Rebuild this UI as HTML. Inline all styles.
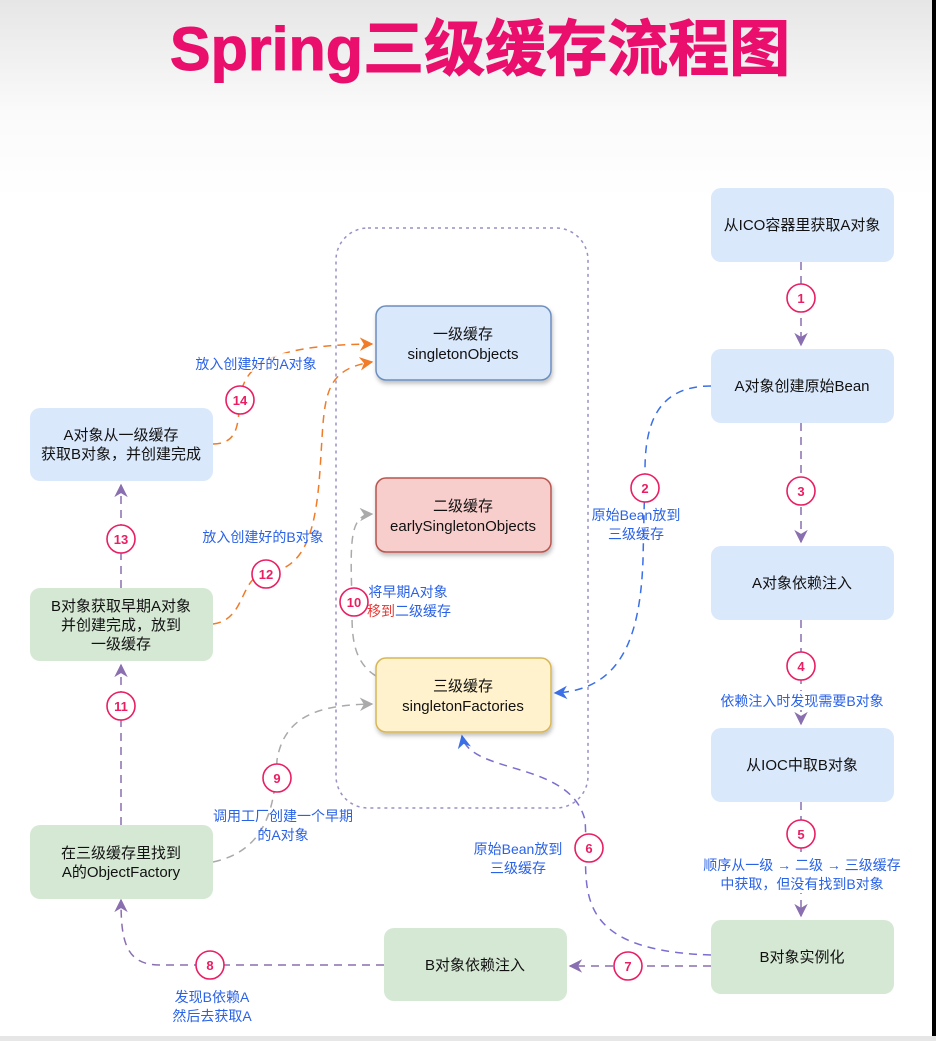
<!DOCTYPE html>
<html><head><meta charset="utf-8"><style>
html,body{margin:0;padding:0;}
body{width:936px;height:1036px;overflow:hidden;background:linear-gradient(#e6e6e6 0px,#fafafa 110px,#fff 200px);}
svg text{font-family:"Liberation Sans","Noto Sans CJK SC",sans-serif;}
</style></head><body>
<svg width="936" height="1036" viewBox="0 0 936 1036" xmlns="http://www.w3.org/2000/svg">
<defs>
<marker id="ap" viewBox="0 0 10 10" refX="9" refY="5" markerWidth="9" markerHeight="9" orient="auto"><path d="M0,0 L10,5 L0,10 L3,5z" fill="#8a6fb0"/></marker>
<marker id="ao" viewBox="0 0 10 10" refX="9" refY="5" markerWidth="9" markerHeight="9" orient="auto"><path d="M0,0 L10,5 L0,10 L3,5z" fill="#f07b28"/></marker>
<marker id="ab" viewBox="0 0 10 10" refX="9" refY="5" markerWidth="9" markerHeight="9" orient="auto"><path d="M0,0 L10,5 L0,10 L3,5z" fill="#3a6fe8"/></marker>
<marker id="ag" viewBox="0 0 10 10" refX="9" refY="5" markerWidth="9" markerHeight="9" orient="auto"><path d="M0,0 L10,5 L0,10 L3,5z" fill="#aaa"/></marker>
<filter id="sh" x="-10%" y="-10%" width="130%" height="140%"><feDropShadow dx="1" dy="3" stdDeviation="2" flood-opacity="0.25"/></filter>
</defs>
<rect x="932" y="0" width="4" height="1036" fill="#000"/>
<text x="480" y="70" text-anchor="middle" font-size="61" font-weight="bold" fill="#ea0f6c" stroke="#ea0f6c" stroke-width="1">Spring三级缓存流程图</text>

<rect x="336" y="228" width="252" height="580" rx="32" fill="none" stroke="#9b8fc4" stroke-width="1.5" stroke-dasharray="3,4"/>

<g fill="none" stroke-width="1.5" stroke-dasharray="8,6">
<path d="M801 262 V345" stroke="#8a6fb0" marker-end="url(#ap)"/>
<path d="M801 423 V542" stroke="#8a6fb0" marker-end="url(#ap)"/>
<path d="M801 620 V724" stroke="#8a6fb0" marker-end="url(#ap)"/>
<path d="M801 802 V916" stroke="#8a6fb0" marker-end="url(#ap)"/>
<path d="M711 386 C660 386 645 420 645 470 L643 560 C640 640 620 690 555 693" stroke="#3a6fe8" marker-end="url(#ab)"/>
<path d="M711 955 C560 950 590 880 585 820 C570 760 470 775 462 736" stroke="#7a6fd0" marker-end="url(#ab)"/>
<path d="M711 966 H570" stroke="#8a6fb0" marker-end="url(#ap)"/>
<path d="M384 965 H160 C125 965 121 940 121 900" stroke="#8a6fb0" marker-end="url(#ap)"/>
<path d="M213 862 C270 850 275 800 277 760 C285 710 330 705 372 704" stroke="#aaa" marker-end="url(#ag)"/>
<path d="M376 676 C350 660 352 630 352 600 C350 540 350 515 372 514" stroke="#aaa" marker-end="url(#ag)"/>
<path d="M121 825 V665" stroke="#8a6fb0" marker-end="url(#ap)"/>
<path d="M121 588 V485" stroke="#8a6fb0" marker-end="url(#ap)"/>
<path d="M213 624 C245 620 240 580 262 574 C300 570 315 545 320 470 C325 400 320 370 372 362" stroke="#f07b28" marker-end="url(#ao)"/>
<path d="M213 444 C240 444 238 420 240 398 C245 360 280 345 372 344" stroke="#f07b28" marker-end="url(#ao)"/>
</g>

<g font-size="15" fill="#111" text-anchor="middle">
<rect x="376" y="306" width="175" height="74" rx="10" fill="#dae8fc" stroke="#6c8ebf" stroke-width="1.5" filter="url(#sh)"/>
<text x="463" y="339">一级缓存</text><text x="463" y="359">singletonObjects</text>
<rect x="376" y="478" width="175" height="74" rx="10" fill="#f8cecc" stroke="#b85450" stroke-width="1.5" filter="url(#sh)"/>
<text x="463" y="511">二级缓存</text><text x="463" y="531">earlySingletonObjects</text>
<rect x="376" y="658" width="175" height="74" rx="10" fill="#fff2cc" stroke="#d6b656" stroke-width="1.5" filter="url(#sh)"/>
<text x="463" y="691">三级缓存</text><text x="463" y="711">singletonFactories</text>

<rect x="711" y="188" width="183" height="74" rx="10" fill="#dae8fc"/><text x="802" y="230">从ICO容器里获取A对象</text>
<rect x="711" y="349" width="183" height="74" rx="10" fill="#dae8fc"/><text x="802" y="391">A对象创建原始Bean</text>
<rect x="711" y="546" width="183" height="74" rx="10" fill="#dae8fc"/><text x="802" y="588">A对象依赖注入</text>
<rect x="711" y="728" width="183" height="74" rx="10" fill="#dae8fc"/><text x="802" y="770">从IOC中取B对象</text>
<rect x="711" y="920" width="183" height="74" rx="10" fill="#d5e8d4"/><text x="802" y="962">B对象实例化</text>
<rect x="384" y="928" width="183" height="73" rx="10" fill="#d5e8d4"/><text x="475" y="970">B对象依赖注入</text>
<rect x="30" y="825" width="183" height="74" rx="10" fill="#d5e8d4"/><text x="121" y="858">在三级缓存里找到</text><text x="121" y="877">A的ObjectFactory</text>
<rect x="30" y="588" width="183" height="73" rx="10" fill="#d5e8d4"/><text x="121" y="611">B对象获取早期A对象</text><text x="121" y="630">并创建完成，放到</text><text x="121" y="649">一级缓存</text>
<rect x="30" y="408" width="183" height="73" rx="10" fill="#dae8fc"/><text x="121" y="440">A对象从一级缓存</text><text x="121" y="459">获取B对象，并创建完成</text>
</g>

<g font-size="14" fill="#2a62e6" text-anchor="middle">
<rect x="185" y="353" width="145" height="19" fill="#fff" opacity="0.8"/>
<text x="256" y="369">放入创建好的A对象</text>
<text x="263" y="542">放入创建好的B对象</text>
<text x="636" y="520">原始Bean放到</text><text x="636" y="539">三级缓存</text>
<text x="408" y="597">将早期A对象</text>
<text x="409" y="616"><tspan fill="#e53935">移到</tspan>二级缓存</text>
<rect x="710" y="691" width="184" height="19" fill="#fff"/>
<text x="802" y="706">依赖注入时发现需要B对象</text>
<rect x="694" y="855" width="216" height="38" fill="#fff"/>
<text x="802" y="870">顺序从一级 → 二级 → 三级缓存</text><text x="802" y="889">中获取，但没有找到B对象</text>
<text x="518" y="854">原始Bean放到</text><text x="518" y="873">三级缓存</text>
<text x="283" y="821">调用工厂创建一个早期</text><text x="283" y="840">的A对象</text>
<text x="212" y="1002">发现B依赖A</text><text x="212" y="1021">然后去获取A</text>
</g>

<g font-size="13" font-weight="bold" fill="#e91e63" text-anchor="middle">
<g fill="#fff" stroke="#e91e63" stroke-width="1.6">
<circle cx="801" cy="298" r="14"/><circle cx="801" cy="491" r="14"/><circle cx="801" cy="666" r="14"/><circle cx="801" cy="834" r="14"/>
<circle cx="645" cy="488" r="14"/><circle cx="589" cy="848" r="14"/><circle cx="628" cy="966" r="14"/><circle cx="210" cy="965" r="14"/>
<circle cx="277" cy="778" r="14"/><circle cx="354" cy="602" r="14"/><circle cx="121" cy="706" r="14"/><circle cx="266" cy="574" r="14"/>
<circle cx="121" cy="539" r="14"/><circle cx="240" cy="400" r="14"/>
</g>
<text x="801" y="303">1</text><text x="801" y="496">3</text><text x="801" y="671">4</text><text x="801" y="839">5</text>
<text x="645" y="493">2</text><text x="589" y="853">6</text><text x="628" y="971">7</text><text x="210" y="970">8</text>
<text x="277" y="783">9</text><text x="354" y="607">10</text><text x="121" y="711">11</text><text x="266" y="579">12</text>
<text x="121" y="544">13</text><text x="240" y="405">14</text>
</g>
</svg>
</body></html>
